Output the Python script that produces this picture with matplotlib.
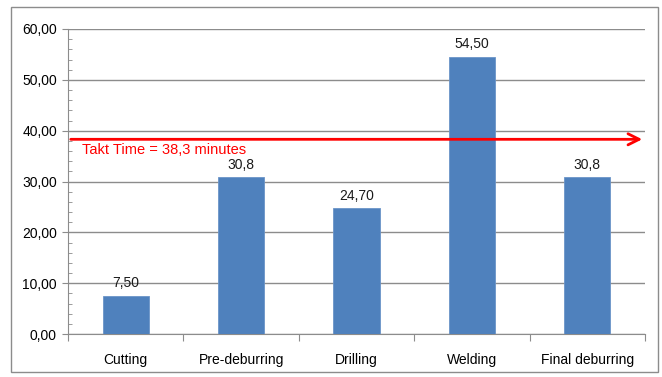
import matplotlib.pyplot as plt
import matplotlib.ticker as ticker
from matplotlib.patches import Rectangle

# Data
steps = ["Cutting", "Pre-deburring", "Drilling", "Welding", "Final deburring"]
times = [7.50, 30.8, 24.70, 54.50, 30.8]
labels = ["7,50", "30,8", "24,70", "54,50", "30,8"]
takt = 38.3
takt_label = "Takt Time = 38,3 minutes"

plt.rcParams['font.family'] = ['Liberation Sans', 'DejaVu Sans']

fig = plt.figure(figsize=(6.62, 3.77), dpi=100)
ax = fig.add_axes([68 / 662, 1 - 334 / 377, (645 - 68) / 662, (334 - 29) / 377])

# outer chart border
fig.patches.append(Rectangle((11 / 662, 1 - 372 / 377), (658 - 11) / 662, (372 - 7) / 377,
                             transform=fig.transFigure, fill=False, edgecolor='#8c8c8c', lw=1))

x = range(len(steps))
ax.bar(x, times, width=0.4, color='#4F81BD', edgecolor='#6b94c8', lw=0.6, zorder=3)
for i, (v, lab) in enumerate(zip(times, labels)):
    ax.text(i, v + 1.7, lab, ha='center', va='baseline', fontsize=10, color='#1a1a1a')

ax.set_xlim(-0.5, len(steps) - 0.5)
ax.set_ylim(0, 60)

ax.yaxis.set_major_locator(ticker.MultipleLocator(10))
ax.yaxis.set_minor_locator(ticker.MultipleLocator(2))
ax.yaxis.set_major_formatter(ticker.FuncFormatter(lambda v, p: f"{v:.2f}".replace('.', ',')))
ax.grid(axis='y', which='major', color='#8c8c8c', lw=1, zorder=0)

ax.set_xticks([i - 0.5 for i in range(len(steps) + 1)], minor=False)
ax.set_xticklabels([])
ax.set_xticks(list(x), minor=True)
ax.set_xticklabels(steps, minor=True)
ax.tick_params(axis='x', which='major', length=5, color='#8c8c8c', direction='out')
ax.tick_params(axis='x', which='minor', length=0, pad=14, labelsize=10)
ax.tick_params(axis='y', which='major', length=4, color='#8c8c8c', direction='out', labelsize=10, pad=4)
ax.tick_params(axis='y', which='minor', length=3, color='#8c8c8c', direction='in')

for s in ['top', 'right']:
    ax.spines[s].set_visible(False)
for s in ['left', 'bottom']:
    ax.spines[s].set_color('#8c8c8c')

# takt time arrow
ax.annotate('', xy=(4.5, takt), xytext=(-0.5, takt), xycoords='data',
            arrowprops=dict(arrowstyle='->,head_length=0.8,head_width=0.4', color='red', lw=2),
            annotation_clip=False, zorder=5)
ax.text(-0.38, takt - 2.9, takt_label, color='red', fontsize=10.5, ha='left', va='baseline', zorder=5)

fig.savefig('out.png', dpi=100)
